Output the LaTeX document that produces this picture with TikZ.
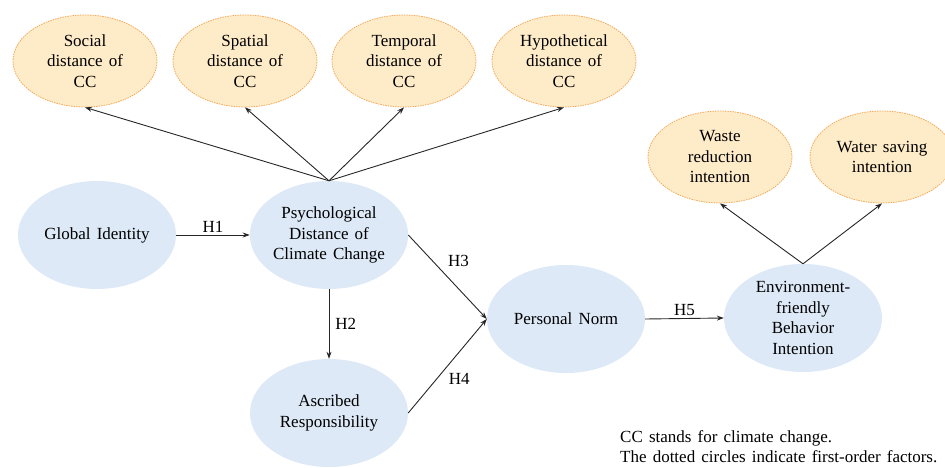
\documentclass[tikz,border=0pt]{standalone}
\usepackage{fontspec}
\setmainfont{Liberation Serif}
\newfontfamily\timesx{Liberation Serif}
\newcommand\diagfont{\timesx\fontsize{17}{20.5}\selectfont\spaceskip=0.36em\relax}
\usetikzlibrary{shapes.geometric,arrows.meta}
\definecolor{bluefill}{RGB}{221,233,246}
\definecolor{orfill}{RGB}{254,236,200}
\definecolor{ordraw}{RGB}{244,168,88}
\tikzset{
  txt/.style={font=\diagfont},
  latent/.style={ellipse, fill=bluefill, draw=none, minimum width=158pt, minimum height=108pt, inner sep=0pt, align=center, txt},
  factor/.style={ellipse, fill=orfill, draw=ordraw, dashed, dash pattern=on 1.5pt off 1pt, line width=0.8pt, minimum width=144pt, minimum height=92pt, inner sep=0pt, align=center, txt},
  conn/.style={draw=black!85, line width=0.9pt, -{Stealth[length=7pt,width=5pt]}},
  hlab/.style={txt, inner sep=2pt}
}
\begin{document}
\begin{tikzpicture}[x=1pt,y=-1pt]
\useasboundingbox (0,0) rectangle (945,468);
\begin{scope}
\clip (0,0) rectangle (945,468);
% first-order factors
\node[factor] (soc) at (85,61) {Social\\distance of\\CC};
\node[factor] (spa) at (245,61) {Spatial\\distance of\\CC};
\node[factor] (tem) at (404,61) {Temporal\\distance of\\CC};
\node[factor] (hyp) at (564,61) {Hypothetical\\distance of\\CC};
\node[factor] (was) at (720,157) {Waste\\reduction\\intention};
\node[factor] (wat) at (882,157) {Water saving\\intention};
% latent constructs
\node[latent] (gi) at (97,235) {Global Identity};
\node[latent] (pd) at (329,235) {Psychological\\Distance of\\Climate Change};
\node[latent] (ar) at (329,413) {Ascribed\\Responsibility};
\node[latent] (pn) at (566,319) {Personal Norm};
\node[latent] (ef) at (803,318) {Environment-\\friendly\\Behavior\\Intention};
\end{scope}
% connectors to first-order factors
\draw[conn] (pd.north) -- (soc.south);
\draw[conn] (pd.north) -- (spa.south);
\draw[conn] (pd.north) -- (tem.south);
\draw[conn] (pd.north) -- (hyp.south);
\draw[conn] (ef.north) -- (was.south);
\draw[conn] (ef.north) -- (wat.south);
% hypotheses
\draw[conn] (gi.east) -- node[hlab, above] {H1} (pd.west);
\draw[conn] (pd.south) -- node[hlab, right, xshift=4pt] {H2} (ar.north);
\draw[conn] (pd.east) -- node[hlab, right, pos=0.31, xshift=13pt] {H3} (pn.west);
\draw[conn] (ar.east) -- node[hlab, right, pos=0.36, xshift=10pt] {H4} (pn.west);
\draw[conn] (pn.east) -- node[hlab, above] {H5} (ef.west);
% note
\node[txt, anchor=north west, align=left, inner sep=0pt] (note) at (620,430)
  {CC stands for climate change.\\The dotted circles indicate first-order factors.};
\end{tikzpicture}
\end{document}
